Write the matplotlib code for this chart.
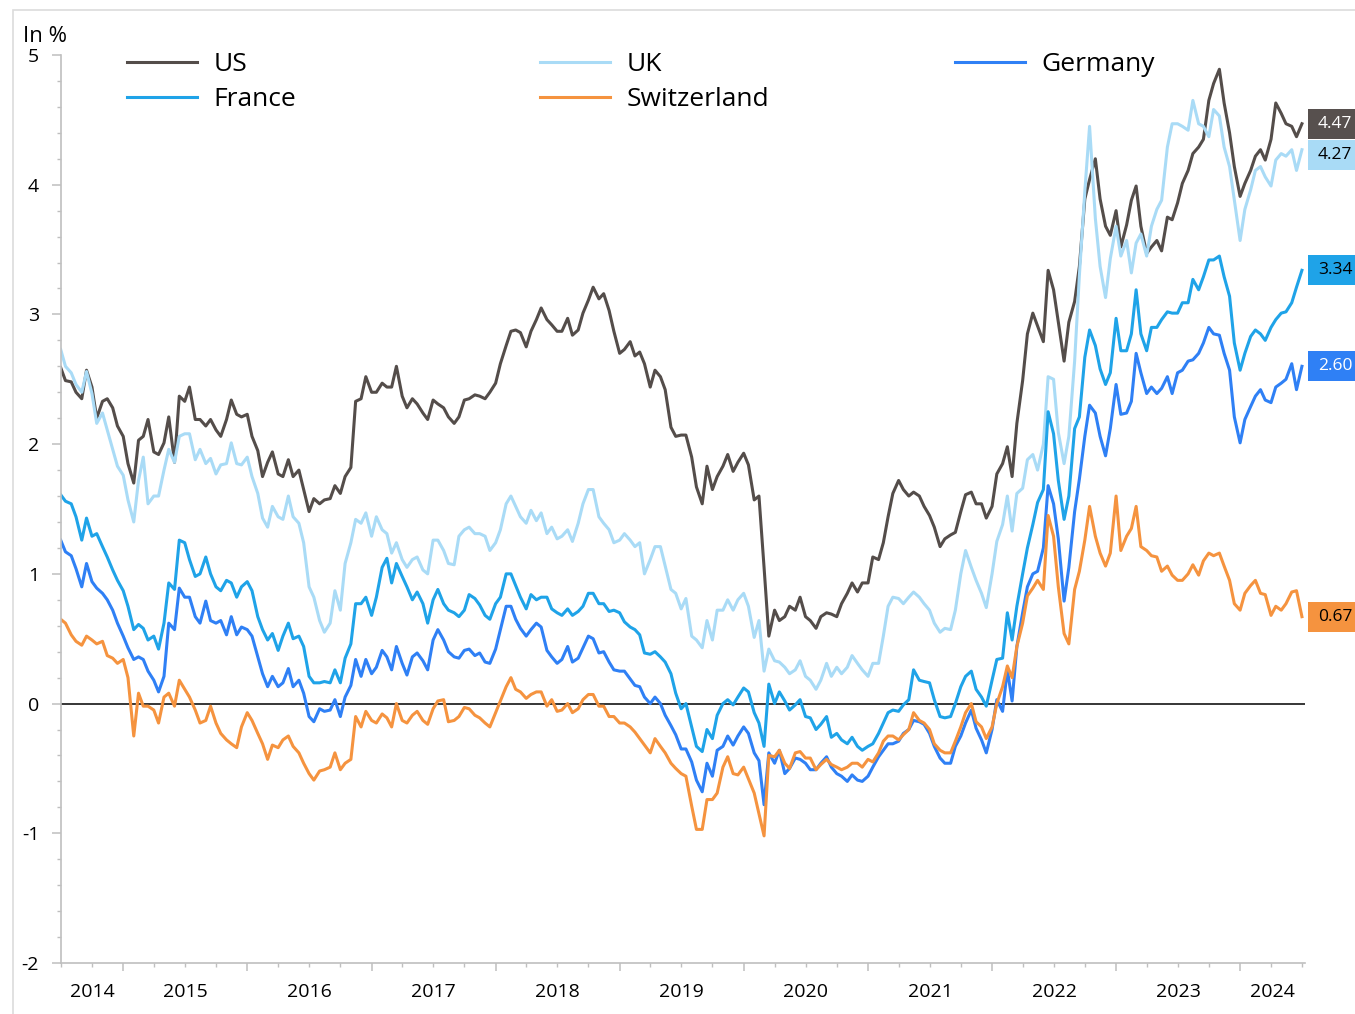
import numpy as np
import pandas as pd
import matplotlib
matplotlib.use('Agg')
import matplotlib.pyplot as plt
import matplotlib.dates as mdates
from matplotlib.patches import Rectangle
from matplotlib.lines import Line2D
import matplotlib.ticker as mticker

plt.rcParams['font.family'] = ['Open Sans', 'DejaVu Sans']

# ---- data: 10-year government bond yields, semi-monthly, in % ----
dates = pd.date_range('2014-07-01', periods=241, freq='SMS')

us = [2.59, 2.49, 2.48, 2.40, 2.35, 2.57, 2.44, 2.20, 2.33, 2.35,
      2.28, 2.14, 2.06, 1.85, 1.70, 2.03, 2.06, 2.19, 1.94, 1.92,
      2.01, 2.21, 1.86, 2.37, 2.33, 2.44, 2.19, 2.19, 2.14, 2.19,
      2.11, 2.06, 2.19, 2.34, 2.23, 2.21, 2.23, 2.06, 1.95, 1.75,
      1.86, 1.94, 1.77, 1.75, 1.88, 1.75, 1.80, 1.65, 1.48, 1.58,
      1.54, 1.57, 1.58, 1.68, 1.62, 1.75, 1.82, 2.33, 2.35, 2.52,
      2.40, 2.40, 2.47, 2.44, 2.44, 2.60, 2.37, 2.28, 2.35, 2.31,
      2.24, 2.19, 2.34, 2.31, 2.28, 2.21, 2.16, 2.21, 2.34, 2.35,
      2.38, 2.37, 2.35, 2.40, 2.47, 2.62, 2.76, 2.87, 2.88, 2.86,
      2.75, 2.87, 2.96, 3.05, 2.96, 2.92, 2.87, 2.87, 2.97, 2.84,
      2.88, 3.01, 3.11, 3.21, 3.12, 3.16, 3.03, 2.87, 2.70, 2.73,
      2.79, 2.68, 2.71, 2.62, 2.44, 2.57, 2.52, 2.42, 2.13, 2.06,
      2.07, 2.07, 1.90, 1.67, 1.54, 1.83, 1.65, 1.75, 1.83, 1.92,
      1.79, 1.86, 1.93, 1.84, 1.57, 1.60, 1.05, 0.52, 0.72, 0.64,
      0.67, 0.75, 0.72, 0.82, 0.67, 0.64, 0.58, 0.67, 0.70, 0.69,
      0.67, 0.77, 0.85, 0.93, 0.86, 0.93, 0.93, 1.13, 1.11, 1.24,
      1.44, 1.62, 1.72, 1.65, 1.60, 1.63, 1.60, 1.52, 1.45, 1.36,
      1.21, 1.27, 1.30, 1.32, 1.48, 1.61, 1.63, 1.54, 1.54, 1.43,
      1.52, 1.77, 1.85, 1.98, 1.75, 2.16, 2.49, 2.85, 3.01, 2.91,
      2.79, 3.34, 3.19, 2.94, 2.64, 2.94, 3.10, 3.37, 3.89, 4.04,
      4.20, 3.89, 3.68, 3.61, 3.80, 3.52, 3.69, 3.88, 3.99, 3.68,
      3.47, 3.52, 3.57, 3.49, 3.75, 3.73, 3.86, 4.01, 4.11, 4.24,
      4.29, 4.35, 4.65, 4.78, 4.89, 4.63, 4.40, 4.14, 3.91, 4.01,
      4.11, 4.22, 4.27, 4.19, 4.35, 4.63, 4.55, 4.47, 4.45, 4.37,
      4.47]

uk = [2.73, 2.60, 2.55, 2.46, 2.40, 2.56, 2.39, 2.16, 2.24, 2.11,
      1.96, 1.83, 1.76, 1.57, 1.40, 1.72, 1.90, 1.54, 1.60, 1.60,
      1.80, 1.96, 1.86, 2.06, 2.08, 2.08, 1.88, 1.96, 1.85, 1.89,
      1.77, 1.84, 1.85, 2.01, 1.85, 1.84, 1.90, 1.75, 1.62, 1.43,
      1.36, 1.52, 1.44, 1.42, 1.60, 1.44, 1.39, 1.24, 0.90, 0.82,
      0.64, 0.55, 0.62, 0.87, 0.72, 1.08, 1.24, 1.42, 1.39, 1.47,
      1.29, 1.44, 1.34, 1.31, 1.16, 1.24, 1.11, 1.05, 1.11, 1.13,
      1.03, 1.00, 1.26, 1.26, 1.18, 1.08, 1.07, 1.29, 1.34, 1.36,
      1.31, 1.31, 1.29, 1.18, 1.24, 1.34, 1.54, 1.60, 1.52, 1.44,
      1.39, 1.49, 1.41, 1.47, 1.31, 1.36, 1.27, 1.29, 1.34, 1.25,
      1.39, 1.54, 1.65, 1.65, 1.44, 1.39, 1.34, 1.24, 1.26, 1.31,
      1.26, 1.21, 1.24, 1.00, 1.11, 1.21, 1.21, 1.06, 0.88, 0.85,
      0.73, 0.81, 0.52, 0.49, 0.43, 0.64, 0.49, 0.72, 0.72, 0.80,
      0.72, 0.80, 0.85, 0.75, 0.51, 0.64, 0.25, 0.42, 0.33, 0.32,
      0.28, 0.23, 0.26, 0.33, 0.21, 0.18, 0.11, 0.18, 0.31, 0.21,
      0.28, 0.23, 0.28, 0.37, 0.31, 0.26, 0.21, 0.31, 0.31, 0.52,
      0.75, 0.82, 0.81, 0.77, 0.82, 0.86, 0.82, 0.77, 0.72, 0.62,
      0.55, 0.58, 0.57, 0.72, 1.00, 1.18, 1.05, 0.95, 0.85, 0.74,
      1.00, 1.25, 1.38, 1.60, 1.33, 1.62, 1.66, 1.88, 1.92, 1.80,
      2.00, 2.52, 2.50, 2.09, 1.85, 2.06, 2.64, 3.30, 3.95, 4.45,
      3.74, 3.37, 3.13, 3.43, 3.68, 3.45, 3.57, 3.32, 3.55, 3.62,
      3.45, 3.68, 3.81, 3.88, 4.29, 4.47, 4.47, 4.45, 4.42, 4.65,
      4.47, 4.45, 4.37, 4.58, 4.53, 4.29, 4.14, 3.88, 3.57, 3.81,
      3.96, 4.11, 4.14, 4.06, 3.99, 4.19, 4.24, 4.22, 4.27, 4.11,
      4.27]

germany = [1.26, 1.17, 1.14, 1.04, 0.90, 1.08, 0.94, 0.89, 0.85, 0.80,
           0.72, 0.62, 0.52, 0.43, 0.34, 0.36, 0.34, 0.25, 0.18, 0.09,
           0.21, 0.62, 0.57, 0.89, 0.82, 0.82, 0.67, 0.62, 0.79, 0.64,
           0.62, 0.64, 0.53, 0.67, 0.53, 0.59, 0.57, 0.52, 0.36, 0.23,
           0.13, 0.21, 0.13, 0.16, 0.27, 0.13, 0.18, 0.08, -0.10, -0.14,
           -0.04, -0.06, -0.05, 0.03, -0.10, 0.05, 0.14, 0.34, 0.21, 0.34,
           0.23, 0.28, 0.41, 0.36, 0.26, 0.44, 0.31, 0.22, 0.36, 0.39,
           0.33, 0.26, 0.49, 0.57, 0.49, 0.40, 0.36, 0.35, 0.41, 0.42,
           0.37, 0.39, 0.32, 0.31, 0.42, 0.57, 0.75, 0.75, 0.65, 0.58,
           0.52, 0.57, 0.62, 0.59, 0.41, 0.36, 0.31, 0.34, 0.44, 0.32,
           0.35, 0.43, 0.52, 0.50, 0.39, 0.40, 0.32, 0.26, 0.25, 0.25,
           0.19, 0.14, 0.13, 0.05, 0.00, 0.05, 0.00, -0.09, -0.17, -0.24,
           -0.35, -0.35, -0.45, -0.59, -0.68, -0.46, -0.56, -0.36, -0.33, -0.25,
           -0.32, -0.25, -0.18, -0.23, -0.38, -0.44, -0.78, -0.38, -0.46, -0.36,
           -0.54, -0.50, -0.42, -0.43, -0.46, -0.51, -0.51, -0.46, -0.41, -0.49,
           -0.54, -0.56, -0.60, -0.55, -0.59, -0.60, -0.56, -0.49, -0.41, -0.36,
           -0.31, -0.31, -0.29, -0.23, -0.20, -0.13, -0.14, -0.16, -0.23, -0.33,
           -0.42, -0.46, -0.46, -0.33, -0.25, -0.15, -0.05, -0.19, -0.28, -0.38,
           -0.20, 0.03, -0.06, 0.26, 0.02, 0.44, 0.70, 0.90, 1.00, 1.02,
           1.20, 1.68, 1.54, 1.27, 0.79, 1.05, 1.48, 1.73, 2.06, 2.30,
           2.24, 2.06, 1.91, 2.12, 2.46, 2.23, 2.24, 2.33, 2.70, 2.55,
           2.39, 2.44, 2.39, 2.43, 2.52, 2.39, 2.55, 2.57, 2.64, 2.65,
           2.70, 2.78, 2.90, 2.85, 2.84, 2.70, 2.57, 2.21, 2.01, 2.19,
           2.29, 2.37, 2.42, 2.34, 2.32, 2.44, 2.47, 2.50, 2.62, 2.42,
           2.60]

france = [1.61, 1.56, 1.54, 1.44, 1.26, 1.43, 1.29, 1.31, 1.21, 1.13,
          1.03, 0.95, 0.87, 0.75, 0.57, 0.61, 0.58, 0.49, 0.52, 0.42,
          0.62, 0.93, 0.88, 1.26, 1.24, 1.11, 0.98, 1.00, 1.13, 1.00,
          0.90, 0.87, 0.95, 0.93, 0.82, 0.90, 0.94, 0.87, 0.67, 0.57,
          0.49, 0.54, 0.41, 0.52, 0.62, 0.50, 0.52, 0.44, 0.21, 0.16,
          0.16, 0.17, 0.16, 0.26, 0.16, 0.35, 0.46, 0.77, 0.77, 0.82,
          0.68, 0.82, 1.05, 1.12, 0.93, 1.08, 0.98, 0.90, 0.80, 0.86,
          0.77, 0.62, 0.80, 0.88, 0.77, 0.72, 0.70, 0.67, 0.72, 0.84,
          0.81, 0.76, 0.68, 0.65, 0.77, 0.82, 1.00, 1.00, 0.91, 0.82,
          0.73, 0.84, 0.80, 0.82, 0.82, 0.73, 0.70, 0.68, 0.73, 0.68,
          0.71, 0.75, 0.85, 0.85, 0.77, 0.77, 0.71, 0.72, 0.70, 0.63,
          0.59, 0.57, 0.53, 0.39, 0.38, 0.40, 0.36, 0.32, 0.23, 0.08,
          -0.04, 0.00, -0.18, -0.33, -0.37, -0.20, -0.27, -0.09, 0.00, 0.03,
          -0.01, 0.05, 0.12, 0.09, -0.07, -0.15, -0.33, 0.15, 0.00, 0.09,
          0.02, -0.05, -0.01, 0.03, -0.10, -0.11, -0.20, -0.16, -0.10, -0.26,
          -0.23, -0.28, -0.31, -0.26, -0.33, -0.36, -0.33, -0.31, -0.23, -0.15,
          -0.07, -0.05, -0.06, -0.01, 0.03, 0.26, 0.18, 0.17, 0.16, 0.03,
          -0.10, -0.11, -0.10, 0.00, 0.13, 0.21, 0.25, 0.11, 0.05, -0.02,
          0.18, 0.34, 0.35, 0.70, 0.49, 0.75, 1.00, 1.20, 1.38, 1.55,
          1.65, 2.25, 2.08, 1.72, 1.42, 1.60, 2.12, 2.21, 2.67, 2.88,
          2.76, 2.58, 2.46, 2.55, 2.97, 2.72, 2.72, 2.85, 3.19, 2.85,
          2.72, 2.90, 2.90, 2.96, 3.02, 3.01, 3.01, 3.09, 3.09, 3.27,
          3.19, 3.29, 3.42, 3.42, 3.45, 3.29, 3.14, 2.78, 2.57, 2.70,
          2.83, 2.88, 2.85, 2.80, 2.90, 2.96, 3.01, 3.02, 3.09, 3.21,
          3.34]

switzerland = [0.65, 0.62, 0.53, 0.48, 0.45, 0.52, 0.49, 0.46, 0.48, 0.37,
               0.35, 0.31, 0.34, 0.20, -0.25, 0.08, -0.02, -0.02, -0.05, -0.15,
               0.05, 0.08, -0.02, 0.18, 0.11, 0.05, -0.05, -0.15, -0.13, -0.02,
               -0.15, -0.23, -0.28, -0.31, -0.34, -0.18, -0.07, -0.13, -0.23, -0.31,
               -0.43, -0.32, -0.34, -0.28, -0.25, -0.33, -0.38, -0.46, -0.54, -0.59,
               -0.52, -0.51, -0.49, -0.38, -0.51, -0.46, -0.43, -0.10, -0.18, -0.06,
               -0.13, -0.15, -0.08, -0.11, -0.18, 0.00, -0.13, -0.15, -0.09, -0.06,
               -0.13, -0.16, -0.04, 0.02, 0.03, -0.14, -0.13, -0.10, -0.03, -0.04,
               -0.09, -0.11, -0.15, -0.18, -0.07, 0.02, 0.13, 0.20, 0.11, 0.09,
               0.04, 0.07, 0.09, 0.09, -0.02, 0.03, -0.06, -0.05, 0.00, -0.07,
               -0.04, 0.03, 0.07, 0.07, -0.02, -0.02, -0.10, -0.10, -0.15, -0.15,
               -0.18, -0.22, -0.27, -0.32, -0.38, -0.27, -0.33, -0.38, -0.46, -0.50,
               -0.54, -0.56, -0.79, -0.97, -0.97, -0.74, -0.74, -0.69, -0.49, -0.41,
               -0.54, -0.55, -0.49, -0.58, -0.69, -0.85, -1.02, -0.40, -0.41, -0.36,
               -0.46, -0.50, -0.38, -0.37, -0.42, -0.42, -0.51, -0.47, -0.43, -0.47,
               -0.49, -0.51, -0.49, -0.46, -0.46, -0.49, -0.43, -0.45, -0.38, -0.29,
               -0.25, -0.25, -0.28, -0.24, -0.20, -0.07, -0.13, -0.15, -0.20, -0.31,
               -0.36, -0.38, -0.38, -0.29, -0.18, -0.07, 0.00, -0.14, -0.18, -0.27,
               -0.18, 0.00, 0.13, 0.29, 0.20, 0.44, 0.62, 0.83, 0.89, 0.95,
               0.88, 1.45, 1.29, 0.90, 0.54, 0.46, 0.88, 1.02, 1.26, 1.52,
               1.29, 1.16, 1.06, 1.16, 1.60, 1.18, 1.29, 1.35, 1.52, 1.21,
               1.18, 1.14, 1.13, 1.02, 1.06, 0.99, 0.95, 0.95, 1.00, 1.07,
               0.99, 1.10, 1.16, 1.14, 1.16, 1.06, 0.95, 0.77, 0.72, 0.85,
               0.91, 0.95, 0.85, 0.84, 0.68, 0.75, 0.72, 0.77, 0.86, 0.87,
               0.67]

series_names = ['US', 'UK', 'Germany', 'France', 'Switzerland']
series_values = [us, uk, germany, france, switzerland]
line_colors = ['#544d4a', '#a9dbf6', '#2f80f5', '#1fa3e8', '#f5933f']
box_colors = ['#57504e', '#a9dbf6', '#2f80f5', '#1fa3e8', '#f5933f']
box_text_colors = ['white', 'black', 'white', 'black', 'black']
year_labels = list(range(2014, 2025))

# ---- figure layout ----
W, H = 1355, 1014
fig = plt.figure(figsize=(W / 100, H / 100), dpi=100)
ax = fig.add_axes([60.7 / W, 1 - 963 / H, (1305 - 60.7) / W, (963 - 55) / H])

x_start = pd.Timestamp('2014-07-01')
x_end = pd.Timestamp('2024-07-10')
ax.set_xlim(x_start, x_end)
ax.set_ylim(-2, 5)

ax.axhline(0, color='black', lw=1.1, zorder=1.5)

for name, vals, col in zip(series_names, series_values, line_colors):
    ax.plot(dates, vals, color=col, lw=2.2, solid_joinstyle='round', label=name, zorder=2)

# spines and ticks
axis_grey = '#bfbfbf'
for s in ['top', 'right']:
    ax.spines[s].set_visible(False)
for s in ['left', 'bottom']:
    ax.spines[s].set_color(axis_grey)
    ax.spines[s].set_linewidth(1.2)

ax.yaxis.set_major_locator(mticker.MultipleLocator(1))
ax.yaxis.set_minor_locator(mticker.MultipleLocator(0.2))
ax.yaxis.set_major_formatter(mticker.FuncFormatter(lambda v, p: f'{v:.0f}'))
ax.tick_params(axis='y', which='major', length=6.5, width=1.1, color=axis_grey,
               labelsize=14, pad=9, labelcolor='black')
ax.tick_params(axis='y', which='minor', length=3, width=1.0, color=axis_grey)

ax.xaxis.set_major_locator(mdates.YearLocator())
ax.xaxis.set_minor_locator(mdates.MonthLocator(bymonth=[1, 4, 7, 10]))
ax.xaxis.set_major_formatter(mticker.NullFormatter())
ax.tick_params(axis='x', which='major', length=6, width=1.1, color=axis_grey)
ax.tick_params(axis='x', which='minor', length=3, width=1.0, color=axis_grey)

# year labels centred in the visible part of each year
for yr in year_labels:
    a = max(pd.Timestamp(f'{yr}-01-01'), x_start)
    b = min(pd.Timestamp(f'{yr + 1}-01-01'), x_end)
    mid = a + (b - a) / 2
    ax.text(mid, -0.022, str(yr), transform=ax.get_xaxis_transform(),
            ha='center', va='top', fontsize=14)

fig.text(23 / W, 1 - 36 / H, 'In %', ha='left', va='center', fontsize=16)

# legend in three columns
handles = {n: Line2D([], [], color=c, lw=2.2) for n, c in zip(series_names, line_colors)}
legend_cols = [(['US', 'France'], 127), (['UK', 'Switzerland'], 540), (['Germany'], 955)]
for names, xp in legend_cols:
    leg = fig.legend([handles[n] for n in names], names, loc='upper left',
                     bbox_to_anchor=(xp / W, 1 - 52 / H), frameon=False, fontsize=19,
                     handlelength=2.65, handletextpad=0.64, labelspacing=0.37,
                     borderpad=0, borderaxespad=0)

# end-value boxes on the right
order = sorted(range(len(series_names)), key=lambda i: -series_values[i][-1])
last_x = mdates.date2num(dates[-1])
prev = None
box_h = 30
for i in order:
    v = series_values[i][-1]
    cy = ax.transData.transform((last_x, v))[1]
    if prev is not None and prev - cy < box_h + 1:
        cy = prev - (box_h + 1)
    prev = cy
    fig.patches.append(Rectangle((1308 / W, (cy - box_h / 2) / H), 80 / W, box_h / H,
                                 transform=fig.transFigure, facecolor=box_colors[i],
                                 edgecolor='none'))
    fig.text(1318 / W, cy / H, f'{v:.2f}', ha='left', va='center', fontsize=12.5,
             color=box_text_colors[i])

# outer light frame
fig.patches.append(Rectangle((12.7 / W, -0.1), 1.2, 1.1 - 10 / H, transform=fig.transFigure,
                             fill=False, edgecolor='#dcdcdc', lw=1.2))

fig.savefig('out.png', dpi=100)
